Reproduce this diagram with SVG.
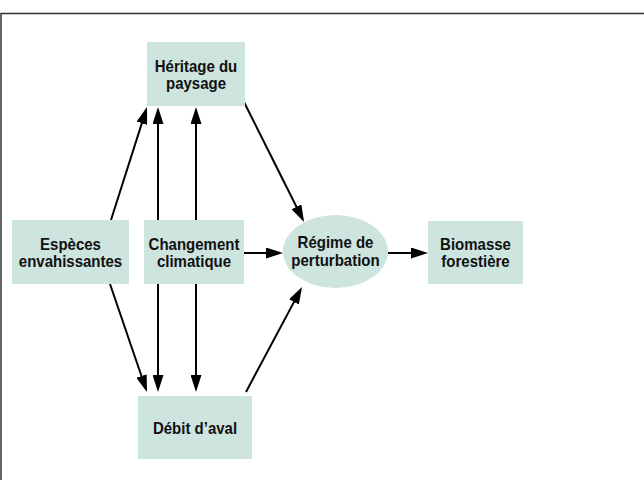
<svg xmlns="http://www.w3.org/2000/svg" width="644" height="480" viewBox="0 0 644 480">
<style>
.box{fill:#cde4df;}
.lbl{font-family:"Liberation Sans",Arial,sans-serif;font-weight:bold;font-size:16.5px;fill:#111;text-anchor:middle;}
.conn line{stroke:#000;stroke-width:2;fill:none;}
.frame{fill:none;stroke:#333;stroke-width:1.5;}
</style>
<defs>
<marker id="ah" markerUnits="userSpaceOnUse" markerWidth="17" markerHeight="11" refX="14" refY="5.5" orient="auto-start-reverse">
<path d="M0,0 L17,5.5 L0,11 Z" fill="#000"/>
</marker>
</defs>
<rect width="644" height="480" fill="#fff"/>
<path class="frame" d="M1,480 V13.5 H644"/>
<g id="connectors" class="conn">
<line x1="111" y1="220" x2="146.1" y2="109.9" marker-end="url(#ah)"/>
<line x1="110" y1="284" x2="146.0" y2="389.2" marker-end="url(#ah)"/>
<line x1="158" y1="110" x2="158" y2="389" marker-start="url(#ah)" marker-end="url(#ah)"/>
<line x1="196" y1="110" x2="196" y2="389" marker-start="url(#ah)" marker-end="url(#ah)"/>
<line x1="244" y1="102" x2="302.7" y2="219.3" marker-end="url(#ah)"/>
<line x1="246" y1="392" x2="300.6" y2="289.6" marker-end="url(#ah)"/>
<line x1="244" y1="253" x2="280" y2="253" marker-end="url(#ah)"/>
<line x1="388" y1="253" x2="425" y2="253" marker-end="url(#ah)"/>
</g>
<g id="heritage">
<rect class="box" x="147" y="42" width="98" height="64"/>
<text class="lbl" x="196" y="72" textLength="82.5" lengthAdjust="spacingAndGlyphs">Héritage du</text>
<text class="lbl" x="196" y="89" textLength="60" lengthAdjust="spacingAndGlyphs">paysage</text>
</g>
<g id="especes">
<rect class="box" x="12" y="220" width="117" height="64"/>
<text class="lbl" x="70.5" y="250" textLength="60.9" lengthAdjust="spacingAndGlyphs">Espèces</text>
<text class="lbl" x="70.5" y="267" textLength="103.4" lengthAdjust="spacingAndGlyphs">envahissantes</text>
</g>
<g id="changement">
<rect class="box" x="144" y="220" width="100" height="64"/>
<text class="lbl" x="194" y="250" textLength="90.8" lengthAdjust="spacingAndGlyphs">Changement</text>
<text class="lbl" x="194" y="267" textLength="74.2" lengthAdjust="spacingAndGlyphs">climatique</text>
</g>
<g id="regime">
<ellipse class="box" cx="335.5" cy="251.5" rx="52.5" ry="36.5"/>
<text class="lbl" x="335.5" y="248" textLength="75.9" lengthAdjust="spacingAndGlyphs">Régime de</text>
<text class="lbl" x="335.5" y="266" textLength="88.3" lengthAdjust="spacingAndGlyphs">perturbation</text>
</g>
<g id="biomasse">
<rect class="box" x="428" y="221" width="95" height="63"/>
<text class="lbl" x="475.5" y="250" textLength="70.9" lengthAdjust="spacingAndGlyphs">Biomasse</text>
<text class="lbl" x="475.5" y="267" textLength="68.4" lengthAdjust="spacingAndGlyphs">forestière</text>
</g>
<g id="debit">
<rect class="box" x="138" y="396" width="114" height="63"/>
<text class="lbl" x="195" y="434" textLength="84.2" lengthAdjust="spacingAndGlyphs">Débit d’aval</text>
</g>
</svg>
